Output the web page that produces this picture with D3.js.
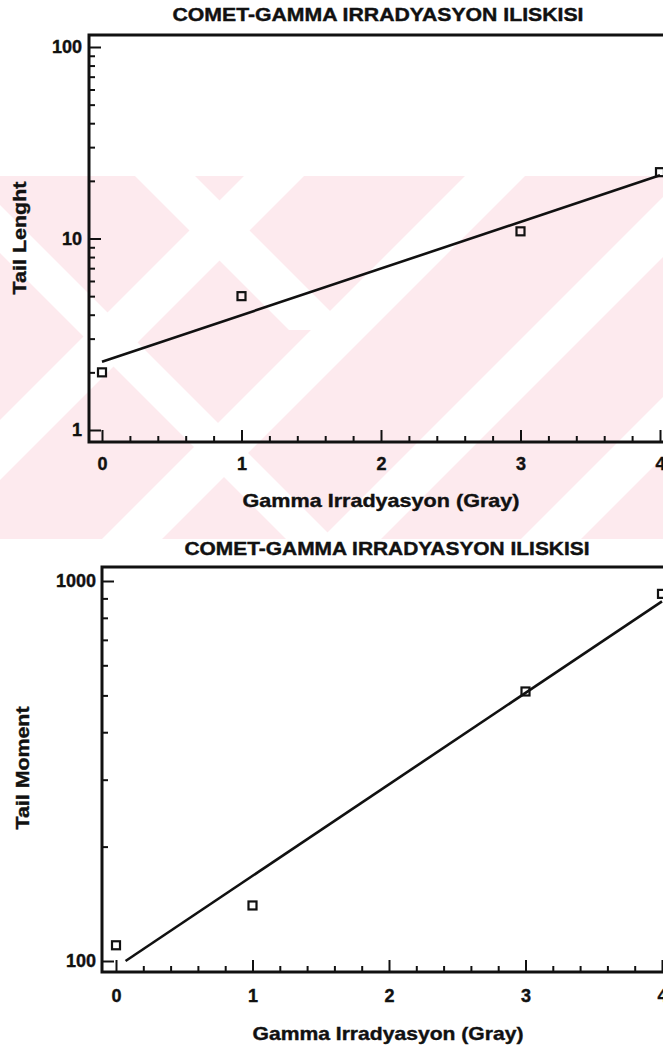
<!DOCTYPE html>
<html>
<head>
<meta charset="utf-8">
<title>Comet - gamma irradyasyon</title>
<script src="https://d3js.org/d3.v7.min.js"></script>
<style>
  body { margin: 0; background: #fff; }
  svg { display: block; }
  text { font-family: "Liberation Sans", Arial, sans-serif; font-weight: bold; fill: #111; stroke: #111; stroke-width: 0.4px; }
</style>
</head>
<body>
<div id="chart"></div>
<script>
// values
var doses = [0, 1, 3, 4];
var tailLength = [2.0, 5.0, 10.9, 22.2];
var tailLengthFitX = [0, 4];
var tailLengthFitY = [2.27, 21.4];
var tailMoment = [110, 140, 512, 925];
var tailMomentFitX = [0.07, 4];
var tailMomentFitY = [100, 884];
var xLabels = [0, 1, 2, 3, 4];
var yLabelsTop = [1, 10, 100];
var yLabelsBottom = [100, 1000];

var W = 663, H = 1052;
var svg = d3.select("#chart").append("svg").attr("width", W).attr("height", H);

// pale watermark behind the upper chart
var wm = svg.append("g");
wm.append("clipPath").attr("id", "wmclip").append("rect")
  .attr("x", 0).attr("y", 176).attr("width", W).attr("height", 363);
var wmg = wm.append("g").attr("clip-path", "url(#wmclip)");
wmg.append("rect").attr("x", 0).attr("y", 176).attr("width", W).attr("height", 363).attr("fill", "#fdeaee");
// "\" bands: x - y in [a,b] ; "/" bands: x + y in [a,b]
var back = [[-41, 19, 176, 330], [-253, -205, 176, 539]];
var fwd = [[641, 701], [860, 920], [1060, 1120], [420, 480]];
back.forEach(function(b) {
  var y0 = b[2], y1 = b[3];
  wmg.append("polygon").attr("fill", "#fff")
    .attr("points", [[b[0] + y0, y0], [b[1] + y0, y0], [b[1] + y1, y1], [b[0] + y1, y1]].join(" "));
});
fwd.forEach(function(b) {
  var y0 = 176, y1 = 539;
  wmg.append("polygon").attr("fill", "#fff")
    .attr("points", [[b[0] - y0, y0], [b[1] - y0, y0], [b[1] - y1, y1], [b[0] - y1, y1]].join(" "));
});

function panel(o) {
  var g = svg.append("g");
  var x = d3.scaleLinear().domain([0, 4]).range([o.x0, o.x4]);
  var y = d3.scaleLog().domain(o.ydom).range(o.yrange);

  // title
  g.append("text").attr("x", o.titleX).attr("y", o.titleY)
    .attr("text-anchor", "middle").attr("dominant-baseline", "central")
    .attr("font-size", 18).attr("textLength", o.titleLen).attr("lengthAdjust", "spacingAndGlyphs")
    .text("COMET-GAMMA IRRADYASYON ILISKISI");

  // y axis with inside ticks
  var ya = d3.axisLeft(y).tickValues(y.ticks()).tickSize(-12).tickPadding(o.yPad)
    .tickFormat(function(d) { return o.yLabels.indexOf(d) >= 0 ? d : ""; });
  var yg = g.append("g").attr("transform", "translate(" + o.axX + ",0)").call(ya);
  yg.select(".domain").remove();
  yg.selectAll(".tick line").attr("stroke", "#111").attr("stroke-width", 2)
    .attr("x2", function(d) { return o.yLabels.indexOf(d) >= 0 ? 12 : 6; });
  yg.selectAll(".tick text").attr("font-size", 18).attr("font-family", null).attr("fill", "#111");

  // x axis with inside ticks
  var xa = d3.axisBottom(x).tickValues(d3.range(0, 4.001, 0.2)).tickSize(-12).tickPadding(o.xPad)
    .tickFormat(function(d) {
      var r = Math.round(d);
      return Math.abs(d - r) < 1e-6 && xLabels.indexOf(r) >= 0 ? r : "";
    });
  var xg = g.append("g").attr("transform", "translate(0," + o.axY + ")").call(xa);
  xg.select(".domain").remove();
  xg.selectAll(".tick line").attr("stroke", "#111").attr("stroke-width", 2)
    .attr("y2", function(d) { return Math.abs(d - Math.round(d)) < 1e-6 ? -12 : -6; });
  xg.selectAll(".tick text").attr("font-size", 18).attr("font-family", null).attr("fill", "#111");

  // axis lines and top frame
  g.append("path").attr("fill", "none").attr("stroke", "#111").attr("stroke-width", 3)
    .attr("d", "M" + W + "," + o.frameTop + "H" + o.axX + "V" + o.axY + "H" + W);

  // axis titles
  g.append("text").attr("transform", "translate(" + o.ytX + "," + o.ytY + ") rotate(-90)")
    .attr("text-anchor", "middle").attr("dominant-baseline", "central")
    .attr("font-size", 18).attr("textLength", o.ytLen).attr("lengthAdjust", "spacingAndGlyphs")
    .text(o.yTitle);
  g.append("text").attr("x", o.xtX).attr("y", o.xtY)
    .attr("text-anchor", "middle").attr("dominant-baseline", "central")
    .attr("font-size", 19).attr("textLength", o.xtLen).attr("lengthAdjust", "spacingAndGlyphs")
    .text("Gamma Irradyasyon (Gray)");

  // fitted line
  var line = d3.line().x(function(d) { return x(d[0]); }).y(function(d) { return y(d[1]); });
  g.append("path").datum(d3.zip(o.fitX, o.fitY)).attr("fill", "none")
    .attr("stroke", "#111").attr("stroke-width", 2.6).attr("d", line);

  // data squares
  var s = 8;
  g.selectAll("rect.pt").data(d3.zip(doses, o.vals)).join("rect").attr("class", "pt")
    .attr("x", function(d) { return x(d[0]) - s / 2; })
    .attr("y", function(d) { return y(d[1]) - s / 2; })
    .attr("width", s).attr("height", s)
    .attr("fill", "none").attr("stroke", "#111").attr("stroke-width", 2.2);
}

panel({
  x0: 102, x4: 660, ydom: [1, 100], yrange: [430, 47],
  axX: 89, axY: 442, frameTop: 35,
  titleX: 378, titleY: 15, titleLen: 411,
  yLabels: yLabelsTop, yPad: 7, xPad: 15,
  yTitle: "Tail Lenght", ytX: 20, ytY: 238, ytLen: 113,
  xtX: 381, xtY: 500, xtLen: 277,
  vals: tailLength, fitX: tailLengthFitX, fitY: tailLengthFitY
});

panel({
  x0: 116, x4: 662, ydom: [100, 1000], yrange: [961, 581],
  axX: 102, axY: 972, frameTop: 567,
  titleX: 387, titleY: 549, titleLen: 405,
  yLabels: yLabelsBottom, yPad: 6, xPad: 17,
  yTitle: "Tail Moment", ytX: 23, ytY: 768, ytLen: 123,
  xtX: 388, xtY: 1033, xtLen: 271,
  vals: tailMoment, fitX: tailMomentFitX, fitY: tailMomentFitY
});
</script>
</body>
</html>
